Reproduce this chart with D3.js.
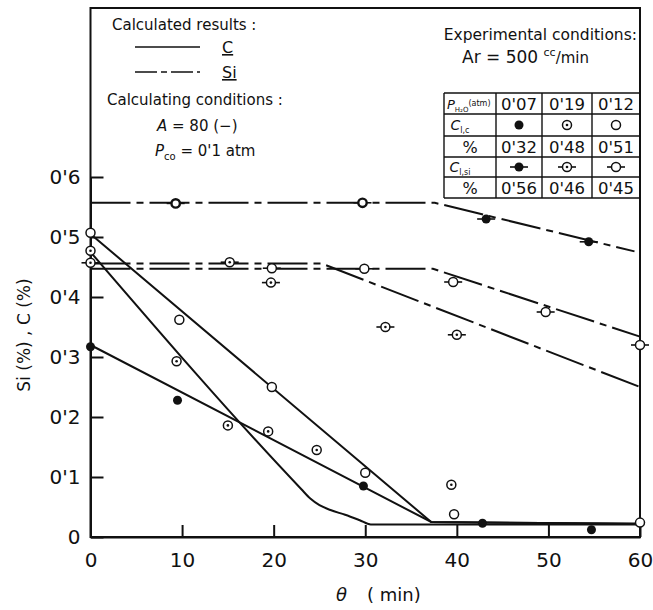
<!DOCTYPE html>
<html lang="en">
<head>
<meta charset="UTF-8">
<title>Si, C vs time</title>
<script src="https://cdn.jsdelivr.net/npm/d3@7"></script>
<style>
    body { margin: 0; background: #fff; }
    svg text { font-family: "DejaVu Sans", sans-serif; fill: #111; }
    .axis path, .axis line { stroke: #111; stroke-width: 2; }
    .axis text { font-size: 20px; }
</style>
</head>
<body>
<script>
// axis ticks
const xTicks = [0, 10, 20, 30, 40, 50, 60];
const yTicks = [0, 0.1, 0.2, 0.3, 0.4, 0.5, 0.6];
const yTickLabels = ["0", "0'1", "0'2", "0'3", "0'4", "0'5", "0'6"];

// measured C (%)  [min, %]
const cFilled = [[0, 0.317], [9.5, 0.228], [29.8, 0.085], [42.8, 0.023], [54.7, 0.012]];
const cDot = [[0, 0.477], [9.4, 0.293], [15.0, 0.186], [19.4, 0.176], [24.7, 0.145], [39.4, 0.087]];
const cOpen = [[0, 0.507], [9.7, 0.362], [19.8, 0.25], [30.0, 0.107], [39.7, 0.038], [60, 0.024]];

// measured Si (%)
const siFilled = [[43.2, 0.53], [54.4, 0.492]];
const siBold = [[9.3, 0.556], [29.7, 0.557]];
const siDot = [[0, 0.457], [15.2, 0.458], [19.7, 0.424], [32.2, 0.35], [40.0, 0.337]];
const siOpen = [[19.8, 0.448], [29.9, 0.447], [39.6, 0.425], [49.7, 0.375], [60, 0.32]];

// calculated curves
const calcCFilled = [[0, 0.32], [37.2, 0.025], [60, 0.022]];
const calcCOpen = [[0, 0.505], [37.2, 0.025], [60, 0.022]];
const calcCDot = [[0, 0.475], [23.0, 0.080], [24.0, 0.064], [25.0, 0.053], [26.2, 0.045],
                  [27.8, 0.037], [29.4, 0.028], [30.6, 0.021], [60, 0.021]];
const calcSiFilled = [[0, 0.557], [37.6, 0.557], [59.4, 0.476]];
const calcSiDot = [[0, 0.456], [25.2, 0.456], [60, 0.25]];
const calcSiOpen = [[0, 0.447], [37.4, 0.447], [60, 0.334]];

// experimental conditions table
const tableHead = ["0'07", "0'19", "0'12"];
const tableC = ["0'32", "0'48", "0'51"];
const tableSi = ["0'56", "0'46", "0'45"];
const tableMarks = ["filled", "dot", "open"];

const w = 653, h = 610;
const svg = d3.select("body").append("svg").attr("width", w).attr("height", h);

const x = d3.scaleLinear().domain([0, 60]).range([90.5, 640]);
const y = d3.scaleLinear().domain([0, 0.6]).range([537, 177]);

// frame
svg.append("rect")
    .attr("x", x(0)).attr("y", 8)
    .attr("width", x(60) - x(0)).attr("height", y(0) - 8)
    .attr("fill", "none").attr("stroke", "#111").attr("stroke-width", 2);

// axes
svg.append("g").attr("class", "axis")
    .attr("transform", "translate(0," + y(0) + ")")
    .call(d3.axisBottom(x).tickValues(xTicks).tickSizeInner(-12).tickSizeOuter(0).tickPadding(16))
    .call(g => g.selectAll("text").attr("fill", "#111"));

svg.append("g").attr("class", "axis")
    .attr("transform", "translate(" + x(0) + ",0)")
    .call(d3.axisLeft(y).tickValues(yTicks).tickSizeInner(-13).tickSizeOuter(0).tickPadding(10)
        .tickFormat((d, i) => yTickLabels[i]))
    .call(g => g.selectAll("text").attr("fill", "#111"));

// axis titles
svg.append("text")
    .attr("transform", "translate(30,335) rotate(-90)")
    .attr("text-anchor", "middle")
    .style("font-size", "17px")
    .text("Si (%) , C (%)");

const xt = svg.append("text").attr("x", 336).attr("y", 601).style("font-size", "18px");
xt.append("tspan").style("font-style", "italic").text("θ");
xt.append("tspan").attr("dx", 20).text("( min)");

// lines
const line = d3.line().x(d => x(d[0])).y(d => y(d[1]));
const smooth = d3.line().x(d => x(d[0])).y(d => y(d[1])).curve(d3.curveMonotoneX);
const dashSi = "40,6,7,6";

[calcCFilled, calcCOpen].forEach(d => {
    svg.append("path").datum(d).attr("d", line)
        .attr("fill", "none").attr("stroke", "#111").attr("stroke-width", 2);
});
svg.append("path").datum(calcCDot).attr("d", smooth)
    .attr("fill", "none").attr("stroke", "#111").attr("stroke-width", 2);
[calcSiFilled, calcSiDot, calcSiOpen].forEach(d => {
    svg.append("path").datum(d).attr("d", line)
        .attr("fill", "none").attr("stroke", "#111").attr("stroke-width", 2)
        .attr("stroke-dasharray", dashSi);
});

// markers
function marker(g, px, py, kind, bars) {
    if (bars) {
        g.append("line").attr("x1", px - 9).attr("x2", px + 9)
            .attr("y1", py).attr("y2", py)
            .attr("stroke", "#111").attr("stroke-width", 1.6);
    }
    if (kind === "filled") {
        g.append("circle").attr("cx", px).attr("cy", py).attr("r", 4.5).attr("fill", "#111");
    } else if (kind === "bold") {
        g.append("circle").attr("cx", px).attr("cy", py).attr("r", 4.2)
            .attr("fill", "#fff").attr("stroke", "#111").attr("stroke-width", 2.4);
    } else {
        g.append("circle").attr("cx", px).attr("cy", py).attr("r", 4.5)
            .attr("fill", "#fff").attr("stroke", "#111").attr("stroke-width", 1.5);
        if (kind === "dot") {
            g.append("circle").attr("cx", px).attr("cy", py).attr("r", 1.3).attr("fill", "#111");
        }
    }
}

const pts = svg.append("g");
cFilled.forEach(d => marker(pts, x(d[0]), y(d[1]), "filled", false));
cDot.forEach(d => marker(pts, x(d[0]), y(d[1]), "dot", false));
cOpen.forEach(d => marker(pts, x(d[0]), y(d[1]), "open", false));
siFilled.forEach(d => marker(pts, x(d[0]), y(d[1]), "filled", true));
siBold.forEach(d => marker(pts, x(d[0]), y(d[1]), "bold", true));
siDot.forEach(d => marker(pts, x(d[0]), y(d[1]), "dot", true));
siOpen.forEach(d => marker(pts, x(d[0]), y(d[1]), "open", true));

// legend (top left)
const lg = svg.append("g").style("font-size", "15px");
lg.append("text").attr("x", 112).attr("y", 30).text("Calculated results :");
lg.append("line").attr("x1", 135).attr("x2", 200).attr("y1", 47).attr("y2", 47)
    .attr("stroke", "#111").attr("stroke-width", 1.6);
lg.append("line").attr("x1", 135).attr("x2", 200).attr("y1", 72).attr("y2", 72)
    .attr("stroke", "#111").attr("stroke-width", 1.6).attr("stroke-dasharray", "22,4,6,4");
lg.append("text").attr("x", 222).attr("y", 53).style("font-size", "16px")
    .style("text-decoration", "underline").text("C");
lg.append("text").attr("x", 222).attr("y", 78).style("font-size", "16px")
    .style("text-decoration", "underline").text("Si");
lg.append("text").attr("x", 107).attr("y", 105).text("Calculating conditions :");
const ta = lg.append("text").attr("x", 157).attr("y", 131);
ta.append("tspan").style("font-style", "italic").text("A");
ta.append("tspan").text("  = 80  (−)");
const tp = lg.append("text").attr("x", 155).attr("y", 156);
tp.append("tspan").style("font-style", "italic").text("P");
tp.append("tspan").attr("dy", 4).style("font-size", "10px").text("co");
tp.append("tspan").attr("dy", -4).text(" = 0'1 atm");

// experimental conditions (top right)
const ex = svg.append("g").style("font-size", "15.5px");
ex.append("text").attr("x", 637).attr("y", 40).attr("text-anchor", "end").text("Experimental conditions:");
const ar = ex.append("text").attr("x", 462).attr("y", 63).style("font-size", "17px");
ar.append("tspan").text("Ar = 500 ");
ar.append("tspan").attr("dy", -7).style("font-size", "11px").text("cc");
ar.append("tspan").attr("dy", 7).style("font-size", "15px").text("/min");

const colX = [444, 496, 542, 592, 640];
const rowY = [93, 114, 136, 157, 177, 198];
const tb = svg.append("g");
rowY.forEach(r => tb.append("line").attr("x1", colX[0]).attr("x2", colX[4]).attr("y1", r).attr("y2", r));
colX.slice(0, 4).forEach(c => tb.append("line").attr("x1", c).attr("x2", c).attr("y1", rowY[0]).attr("y2", rowY[5]));
tb.selectAll("line").attr("stroke", "#111").attr("stroke-width", 1.4);

const mid = i => (colX[i] + colX[i + 1]) / 2;
const rmid = j => (rowY[j] + rowY[j + 1]) / 2;

// row labels
const l0 = tb.append("text").attr("x", colX[0] + 3).attr("y", rmid(0) + 5);
l0.append("tspan").style("font-style", "italic").style("font-size", "13px").text("P");
l0.append("tspan").attr("dy", 3).style("font-size", "7px").text("H₂O");
l0.append("tspan").attr("dy", -6).style("font-size", "8px").text("(atm)");
[1, 3].forEach((j, k) => {
    const t = tb.append("text").attr("x", mid(0) - 10).attr("y", rmid(j) + 5).attr("text-anchor", "middle");
    t.append("tspan").style("font-style", "italic").style("font-size", "14px").text("C");
    t.append("tspan").attr("dy", 3).style("font-size", "8px").text(k === 0 ? "l,c" : "l,si");
});
[2, 4].forEach(j => {
    tb.append("text").attr("x", mid(0)).attr("y", rmid(j) + 6).attr("text-anchor", "middle")
        .style("font-size", "16px").text("%");
});

tableHead.forEach((v, i) => tb.append("text").attr("x", mid(i + 1)).attr("y", rmid(0) + 6)
    .attr("text-anchor", "middle").style("font-size", "16.5px").text(v));
tableC.forEach((v, i) => tb.append("text").attr("x", mid(i + 1)).attr("y", rmid(2) + 6)
    .attr("text-anchor", "middle").style("font-size", "16.5px").text(v));
tableSi.forEach((v, i) => tb.append("text").attr("x", mid(i + 1)).attr("y", rmid(4) + 6)
    .attr("text-anchor", "middle").style("font-size", "16.5px").text(v));
tableMarks.forEach((k, i) => {
    marker(tb, mid(i + 1), rmid(1), k, false);
    marker(tb, mid(i + 1), rmid(3), k, true);
});
</script>
</body>
</html>
